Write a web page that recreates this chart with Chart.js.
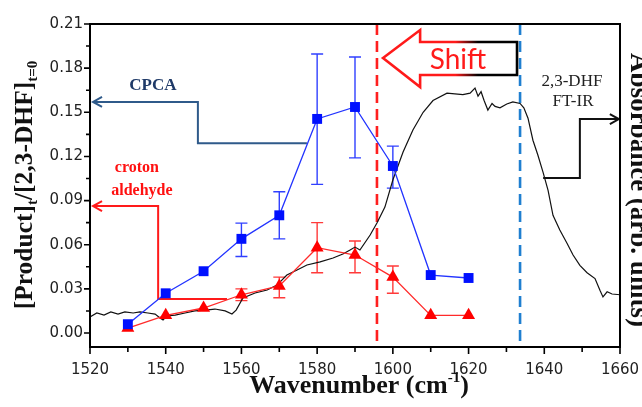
<!DOCTYPE html>
<html><head><meta charset="utf-8">
<script src="https://cdn.jsdelivr.net/npm/chart.js@4.4.1/dist/chart.umd.min.js"></script>
<style>html,body{margin:0;padding:0;background:#fff;overflow:hidden}canvas{display:block}</style>
</head><body>
<canvas id="c" width="642" height="407"></canvas>
<script>
// ---- data ----
const wavenumbers = [1530, 1540, 1550, 1560, 1570, 1580, 1590, 1600, 1610, 1620];
const cpca        = [0.006, 0.027, 0.042, 0.064, 0.080, 0.1455, 0.1536, 0.1135, 0.0394, 0.0374];
const cpcaLow     = [null, null, null, 0.052, 0.064, 0.101, 0.119, 0.0985, null, null];
const cpcaHigh    = [null, null, null, 0.0747, 0.096, 0.1896, 0.1876, 0.127, null, null];
const croton      = [0.0034, 0.012, 0.017, 0.026, 0.032, 0.058, 0.053, 0.038, 0.012, 0.012];
const crotonLow   = [null, null, null, 0.022, 0.024, 0.041, 0.041, 0.027, null, null];
const crotonHigh  = [null, null, null, 0.030, 0.038, 0.075, 0.0625, 0.0455, null, null];
const ftirX = [1520,1521.8,1523.7,1525.5,1527.4,1529.2,1531.4,1533.2,1535.3,1537.2,1538.5,1539.3,1540.3,1542.5,1545.1,1547.7,1550.4,1553,1555.7,1557.5,1558.6,1560.4,1563.6,1566.8,1569.4,1572,1574.7,1577.3,1580.8,1584.2,1586.8,1588.7,1590,1591.3,1594,1595.8,1597.9,1600,1602.7,1605.3,1608,1610.6,1614.3,1618.5,1620.4,1621.7,1622.5,1623.3,1624.1,1625.1,1626.2,1627,1628.3,1630.1,1631.7,1633.6,1634.6,1635.7,1637,1638.3,1639.7,1641,1642.3,1644.1,1646,1647.6,1649.4,1651.3,1653.4,1654.7,1655.5,1656.6,1657.9,1660];
const ftirY = [0.0109,0.0136,0.0122,0.0143,0.0129,0.0143,0.0136,0.0143,0.0136,0.0129,0.0102,0.0088,0.0116,0.0122,0.0136,0.015,0.0156,0.0163,0.015,0.0129,0.0156,0.0238,0.0272,0.0292,0.0326,0.0394,0.0428,0.0462,0.0483,0.051,0.0537,0.0564,0.0584,0.0564,0.0666,0.0748,0.0856,0.104,0.123,0.138,0.150,0.158,0.163,0.162,0.163,0.1665,0.161,0.164,0.158,0.1515,0.156,0.154,0.153,0.1556,0.157,0.156,0.153,0.146,0.131,0.121,0.109,0.097,0.080,0.070,0.061,0.053,0.046,0.041,0.037,0.029,0.0245,0.028,0.0265,0.026];
const xTickValues = [1520, 1540, 1560, 1580, 1600, 1620, 1640, 1660];
const xMinorTicks = [1530, 1550, 1570, 1590, 1610, 1630, 1650];
const yTickValues = [0.00, 0.03, 0.06, 0.09, 0.12, 0.15, 0.18, 0.21];
const yMinorTicks = [0.015, 0.045, 0.075, 0.105, 0.135, 0.165, 0.195];
const shiftLine = 1595.8;   // red dashed marker
const ftirEdge  = 1633.6;   // blue dashed marker

// ---- annotation geometry (data units) ----
const cpcaArrow   = [[1577.3,0.129],[1548.5,0.129],[1548.5,0.157],[1520.8,0.157]];
const crotonArrow = [[1556.2,0.0231],[1538,0.0231],[1538,0.0863],[1520.8,0.0863]];
const ftirArrow   = [[1639.7,0.1053],[1649.4,0.1053],[1649.4,0.1454],[1659.7,0.1454]];

const SERIF = '"Liberation Serif","Times New Roman",serif';

function drawArrow(ctx, xs, ys, pts, color, lw){
  ctx.save();
  ctx.strokeStyle = color; ctx.lineWidth = lw; ctx.lineJoin='miter';
  ctx.beginPath();
  pts.forEach((p,i)=>{const X=xs.getPixelForValue(p[0]),Y=ys.getPixelForValue(p[1]); i?ctx.lineTo(X,Y):ctx.moveTo(X,Y);});
  ctx.stroke();
  const a=pts[pts.length-2], b=pts[pts.length-1];
  const ax=xs.getPixelForValue(a[0]), ay=ys.getPixelForValue(a[1]);
  const bx=xs.getPixelForValue(b[0]), by=ys.getPixelForValue(b[1]);
  const ang=Math.atan2(by-ay,bx-ax);
  ctx.beginPath();
  ctx.moveTo(bx-9*Math.cos(ang)+5*Math.sin(ang), by-9*Math.sin(ang)-5*Math.cos(ang));
  ctx.lineTo(bx,by);
  ctx.lineTo(bx-9*Math.cos(ang)-5*Math.sin(ang), by-9*Math.sin(ang)+5*Math.cos(ang));
  ctx.stroke();
  ctx.restore();
}

function drawErrorBars(ctx, xs, ys, lows, highs, color){
  ctx.save(); ctx.strokeStyle=color; ctx.lineWidth=1.4;
  wavenumbers.forEach((w,i)=>{
    if(lows[i]==null) return;
    const X=xs.getPixelForValue(w), Y1=ys.getPixelForValue(lows[i]), Y2=ys.getPixelForValue(highs[i]);
    ctx.beginPath();
    ctx.moveTo(X,Y1); ctx.lineTo(X,Y2);
    ctx.moveTo(X-6,Y1); ctx.lineTo(X+6,Y1);
    ctx.moveTo(X-6,Y2); ctx.lineTo(X+6,Y2);
    ctx.stroke();
  });
  ctx.restore();
}

const decor = {
  id:'decor',
  beforeDatasetsDraw(chart){
    const {ctx, chartArea:ca, scales:{x:xs,y:ys}} = chart;
    ctx.save();
    ctx.lineWidth=2.6; ctx.setLineDash([11,6]);
    ctx.strokeStyle='#ff1f1f';
    let X=xs.getPixelForValue(shiftLine);
    ctx.beginPath(); ctx.moveTo(X,ca.top); ctx.lineTo(X,ca.bottom); ctx.stroke();
    ctx.strokeStyle='#1f7fd0';
    X=xs.getPixelForValue(ftirEdge);
    ctx.beginPath(); ctx.moveTo(X,ca.top); ctx.lineTo(X,ca.bottom); ctx.stroke();
    ctx.setLineDash([]);
    ctx.restore();

    drawArrow(ctx,xs,ys,cpcaArrow,'#2f5a8a',2);
    drawArrow(ctx,xs,ys,crotonArrow,'#ff1a1a',2);
    drawArrow(ctx,xs,ys,ftirArrow,'#111',2);
    ctx.save();
    ctx.textAlign='center'; ctx.textBaseline='middle';
    ctx.font='bold 17px '+SERIF; ctx.fillStyle='#1f3a68';
    ctx.fillText('CPCA', xs.getPixelForValue(1536.6), ys.getPixelForValue(0.168));
    ctx.font='bold 16px '+SERIF; ctx.fillStyle='#ff1010';
    ctx.fillText('croton', xs.getPixelForValue(1532.4), ys.getPixelForValue(0.112));
    ctx.fillText('aldehyde', xs.getPixelForValue(1533.7), ys.getPixelForValue(0.0965));
    ctx.font='17px '+SERIF; ctx.fillStyle='#222';
    ctx.fillText('2,3-DHF', xs.getPixelForValue(1647.3), ys.getPixelForValue(0.1706));
    ctx.fillText('FT-IR', xs.getPixelForValue(1647.6), ys.getPixelForValue(0.157));
    ctx.restore();

    ctx.save();
    const P=(x,y)=>[xs.getPixelForValue(x), ys.getPixelForValue(y)];
    const shape=[P(1597.4,0.1869),P(1607.2,0.2059),P(1607.2,0.1978),P(1632.8,0.1978),P(1632.8,0.1753),P(1607.2,0.1753),P(1607.2,0.1672)];
    const g=ctx.createLinearGradient(xs.getPixelForValue(1616.5),0,xs.getPixelForValue(1622.5),0);
    g.addColorStop(0,'#ff1a1a'); g.addColorStop(1,'#000');
    ctx.strokeStyle=g; ctx.lineWidth=2.6; ctx.lineJoin='miter';
    ctx.beginPath(); shape.forEach((p,i)=>i?ctx.lineTo(p[0],p[1]):ctx.moveTo(p[0],p[1])); ctx.closePath();
    ctx.fillStyle='#fff'; ctx.fill(); ctx.stroke();
    ctx.font='28px Lato, "Open Sans", sans-serif'; ctx.fillStyle='#ff1a1a';
    ctx.textAlign='center'; ctx.textBaseline='middle';
    ctx.fillText('Shift', xs.getPixelForValue(1617.2), ys.getPixelForValue(0.1855));
    ctx.restore();

    drawErrorBars(ctx,xs,ys,cpcaLow,cpcaHigh,'#3040ff');
    drawErrorBars(ctx,xs,ys,crotonLow,crotonHigh,'#ff3a3a');
  },
  afterDraw(chart){
    const {ctx, chartArea:ca, scales:{x:xs,y:ys}} = chart;
    ctx.save();
    ctx.strokeStyle='#000'; ctx.lineWidth=2;
    ctx.strokeRect(ca.left, ca.top, ca.right-ca.left, ca.bottom-ca.top);
    ctx.lineWidth=1.6;
    ctx.beginPath();
    xTickValues.forEach(v=>{const X=xs.getPixelForValue(v); ctx.moveTo(X,ca.bottom); ctx.lineTo(X,ca.bottom+7);});
    xMinorTicks.forEach(v=>{const X=xs.getPixelForValue(v); ctx.moveTo(X,ca.bottom); ctx.lineTo(X,ca.bottom+5);});
    yTickValues.forEach(v=>{const Y=ys.getPixelForValue(v); ctx.moveTo(ca.left,Y); ctx.lineTo(ca.left-6,Y);});
    yMinorTicks.forEach(v=>{const Y=ys.getPixelForValue(v); ctx.moveTo(ca.left,Y); ctx.lineTo(ca.left-4,Y);});
    ctx.stroke();

    ctx.fillStyle='#111'; ctx.textBaseline='alphabetic'; ctx.textAlign='left';
    const big='bold 26px '+SERIF, small='bold 15px '+SERIF;
    ctx.font=big; const w1=ctx.measureText('Wavenumber (cm').width;
    ctx.font=small; const w2=ctx.measureText('-1').width;
    ctx.font=big; const w3=ctx.measureText(')').width;
    let x0=359-(w1+w2+w3)/2, yb=393;
    ctx.font=big; ctx.fillText('Wavenumber (cm',x0,yb);
    ctx.font=small; ctx.fillText('-1',x0+w1,yb-11);
    ctx.font=big; ctx.fillText(')',x0+w1+w2,yb);

    ctx.save();
    ctx.translate(32, 185); ctx.rotate(-Math.PI/2);
    const bigY='bold 25.5px '+SERIF, smallY='bold 15px '+SERIF;
    const parts=[['[Product]',bigY,0],['t',smallY,5],['/[2,3-DHF]',bigY,0],['t=0',smallY,5]];
    let tot=0; parts.forEach(p=>{ctx.font=p[1]; tot+=ctx.measureText(p[0]).width;});
    let cx=-tot/2;
    parts.forEach(p=>{ctx.font=p[1]; ctx.fillText(p[0],cx,p[2]); cx+=ctx.measureText(p[0]).width;});
    ctx.restore();

    ctx.save();
    ctx.translate(631, 190); ctx.rotate(Math.PI/2);
    ctx.font='bold 27px '+SERIF; ctx.textAlign='center';
    ctx.fillText('Absorbance (arb. units)',0,0);
    ctx.restore();
    ctx.restore();
  }
};

new Chart(document.getElementById('c'), {
  type:'line',
  data:{
    datasets:[
      {label:'CPCA', data:wavenumbers.map((w,i)=>({x:w,y:cpca[i]})), borderColor:'#2233ff', backgroundColor:'#0010ff',
       borderWidth:1.3, pointStyle:'rect', pointRadius:7, pointBorderWidth:0, tension:0},
      {label:'croton aldehyde', data:wavenumbers.map((w,i)=>({x:w,y:croton[i]})), borderColor:'#ff2a2a', backgroundColor:'#ff0000',
       borderWidth:1.3, pointStyle:'triangle', pointRadius:7.5, pointBorderWidth:0, tension:0},
      {label:'2,3-DHF FT-IR', data:ftirX.map((w,i)=>({x:w,y:ftirY[i]})), borderColor:'#111', borderWidth:1.2,
       pointRadius:0, tension:0}
    ]
  },
  options:{
    responsive:false, animation:false, devicePixelRatio:1,
    layout:{padding:{left:0,right:22,top:24,bottom:0}},
    plugins:{legend:{display:false}, tooltip:{enabled:false}},
    scales:{
      x:{type:'linear', min:1520, max:1660,
         afterBuildTicks:s=>{s.ticks=xTickValues.map(v=>({value:v}));},
         afterFit:s=>{s.height=60; s.paddingLeft=0; s.paddingRight=0;},
         grid:{display:false, drawTicks:false}, border:{display:false},
         ticks:{padding:14, maxRotation:0, autoSkip:false, color:'#222', font:{family:'"DejaVu Sans"', size:15}, callback:v=>String(v)}},
      y:{type:'linear', min:-0.0095, max:0.21,
         afterBuildTicks:s=>{s.ticks=yTickValues.map(v=>({value:v}));},
         afterFit:s=>{s.width=90; s.paddingTop=0; s.paddingBottom=0;},
         grid:{display:false, drawTicks:false}, border:{display:false},
         ticks:{padding:7, autoSkip:false, color:'#222', font:{family:'"DejaVu Sans"', size:15}, callback:v=>Number(v).toFixed(2)}}
    }
  },
  plugins:[decor]
});
</script>
</body></html>
